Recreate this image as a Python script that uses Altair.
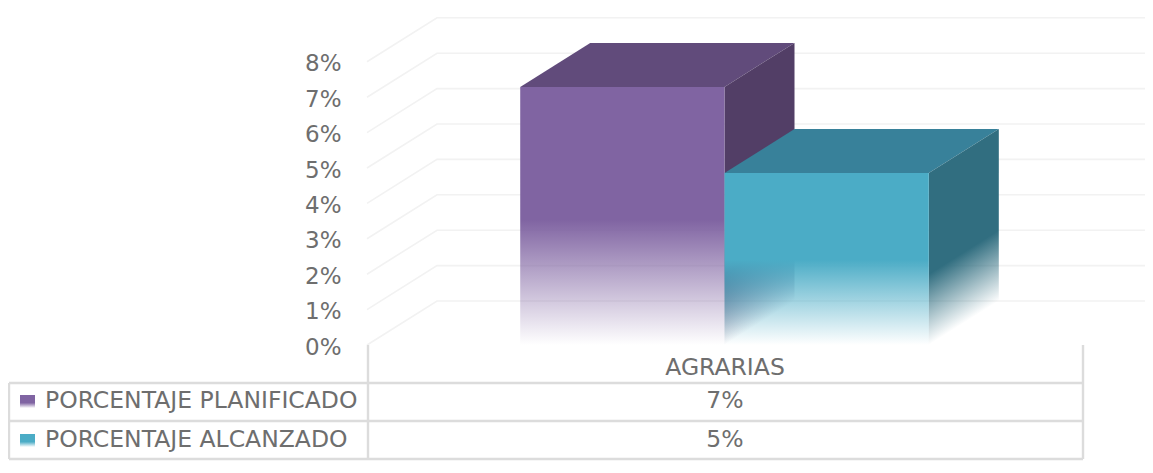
import altair as alt
import pandas as pd

CATEGORY = "AGRARIAS"
SERIES = ["PORCENTAJE PLANIFICADO", "PORCENTAJE ALCANZADO"]
TABLE_VALUES = ["7%", "5%"]
HEIGHTS = [7.29, 4.86]
TICKS = [0, 1, 2, 3, 4, 5, 6, 7, 8]
FRONT = ["#8064a2", "#4bacc6"]
TOP = ["#614b7b", "#38819a"]
SIDE = ["#523e66", "#316e80"]
FONT = "DejaVu Sans"
INK = "#6e6e6e"
LINE = "#dcdcdc"
GRID = "#f2f2f2"

PX_X, PX_Y = 204.29, 35.4
LEFT, W, H = 359, 778, 337
DX, DY = 70 / PX_X, 44 / PX_Y
xs = alt.Scale(domain=[0, W / PX_X], range=[0, W], nice=False, zero=False)
ys = alt.Scale(domain=[0, H / PX_Y], range=[H, 0], nice=False, zero=False)


def rgba(h, a):
    r, g, b = int(h[1:3], 16), int(h[3:5], 16), int(h[5:7], 16)
    return f"rgba({r},{g},{b},{a})"


def X(f="x"):
    return alt.X(f"{f}:Q", scale=xs, axis=None)


def Y(f="y"):
    return alt.Y(f"{f}:Q", scale=ys, title=None)


def face(rows, fill):
    df = pd.DataFrame(rows, columns=["x", "y", "y2"])
    return alt.Chart(df).mark_area(color=fill, interpolate="linear", clip=False).encode(
        x=X(), y=Y(), y2="y2:Q"
    )


def fade_front(c, solid_to):
    return alt.LinearGradient(
        gradient="linear", x1=0, y1=0, x2=0, y2=1,
        stops=[alt.GradientStop(offset=0, color=rgba(c, 1)),
               alt.GradientStop(offset=solid_to, color=rgba(c, 1)),
               alt.GradientStop(offset=1, color=rgba(c, 0))],
    )


def fade_side(c, h_val):
    # iso-lines parallel to the receding floor edge
    bbox = h_val + DY
    n = DY / bbox
    fade = 2.0 / bbox
    k = fade / (1 + n * n)
    return alt.LinearGradient(
        gradient="linear", x1=-k * n, y1=1 - k, x2=0, y2=1,
        stops=[alt.GradientStop(offset=0, color=rgba(c, 1)),
               alt.GradientStop(offset=1, color=rgba(c, 0))],
    )


layers = []

# invisible layer that carries the value axis (first, so its axis definition wins)
axis_df = pd.DataFrame({"y": TICKS})
layers.append(
    alt.Chart(axis_df).mark_point(opacity=0).encode(
        y=alt.Y("y:Q", scale=ys, title=None, axis=alt.Axis(
            values=TICKS, format=".0f", labelExpr="datum.label + '%'",
            domain=False, ticks=False, grid=False, labelPadding=26, labelOffset=2,
            labelFont=FONT, labelFontSize=23, labelColor=INK)),
    )
)

# gridlines: left wall + back wall
for t in TICKS:
    gdf = pd.DataFrame({"x": [0, DX, DX + 3.5], "y": [t, t + DY, t + DY]})
    layers.append(alt.Chart(gdf).mark_line(color=GRID, strokeWidth=1.6, clip=False).encode(x=X(), y=Y()))

# bars, left to right
for i, hv in enumerate(HEIGHTS):
    x0, x1 = 0.75 + i, 1.75 + i
    layers.append(face([(x0, hv, hv), (x0 + DX, hv + DY, hv), (x1, hv + DY, hv), (x1 + DX, hv + DY, hv + DY)], TOP[i]))
    layers.append(face([(x1, hv, 0), (x1 + DX, hv + DY, DY)], fade_side(SIDE[i], hv)))
    layers.append(face([(x0, hv, 0), (x1, hv, 0)], fade_front(FRONT[i], 0.515 if i == 0 else 0.506)))


def rule(x1, x2, y1, y2):
    return alt.Chart(pd.DataFrame({"a": [0]})).mark_rule(color=LINE, strokeWidth=2.4).encode(
        x=alt.value(x1 - 367), x2=alt.value(x2 - 367), y=alt.value(y1 - 8), y2=alt.value(y2 - 8)
    )


for y in [383, 421, 459]:
    layers.append(rule(9, 1083, y, y))
layers.append(rule(9, 9, 383, 459))
layers.append(rule(368, 368, 345, 459))
layers.append(rule(1083, 1083, 345, 459))


def label(text, x_px, y_px, align):
    return alt.Chart(pd.DataFrame({"t": [text]})).mark_text(
        font=FONT, fontSize=23.5, color=INK, align=align, baseline="middle"
    ).encode(x=alt.value(x_px - 367), y=alt.value(y_px - 8), text="t:N")


layers.append(label(CATEGORY, 725, 368, "center"))
for i, (s, v, yy) in enumerate(zip(SERIES, TABLE_VALUES, [401, 440])):
    layers.append(label(s, 45, yy, "left"))
    layers.append(label(v, 725, yy, "center"))
    layers.append(
        alt.Chart(pd.DataFrame({"a": [0]})).mark_rect(color=fade_front(FRONT[i], 0.6)).encode(
            x=alt.value(20 - 367), x2=alt.value(35 - 367), y=alt.value(yy - 6 - 8), y2=alt.value(yy + 7 - 8)
        )
    )

chart = alt.layer(*layers).resolve_scale(x="shared", y="shared").properties(
    width=W, height=H,
    padding={"left": LEFT, "top": 0, "right": 0, "bottom": 118},
    autosize=alt.AutoSizeParams(type="none"),
    background="white",
).configure_view(stroke=None)

chart.save("out.html", embed_options={"renderer": "svg", "actions": False})
